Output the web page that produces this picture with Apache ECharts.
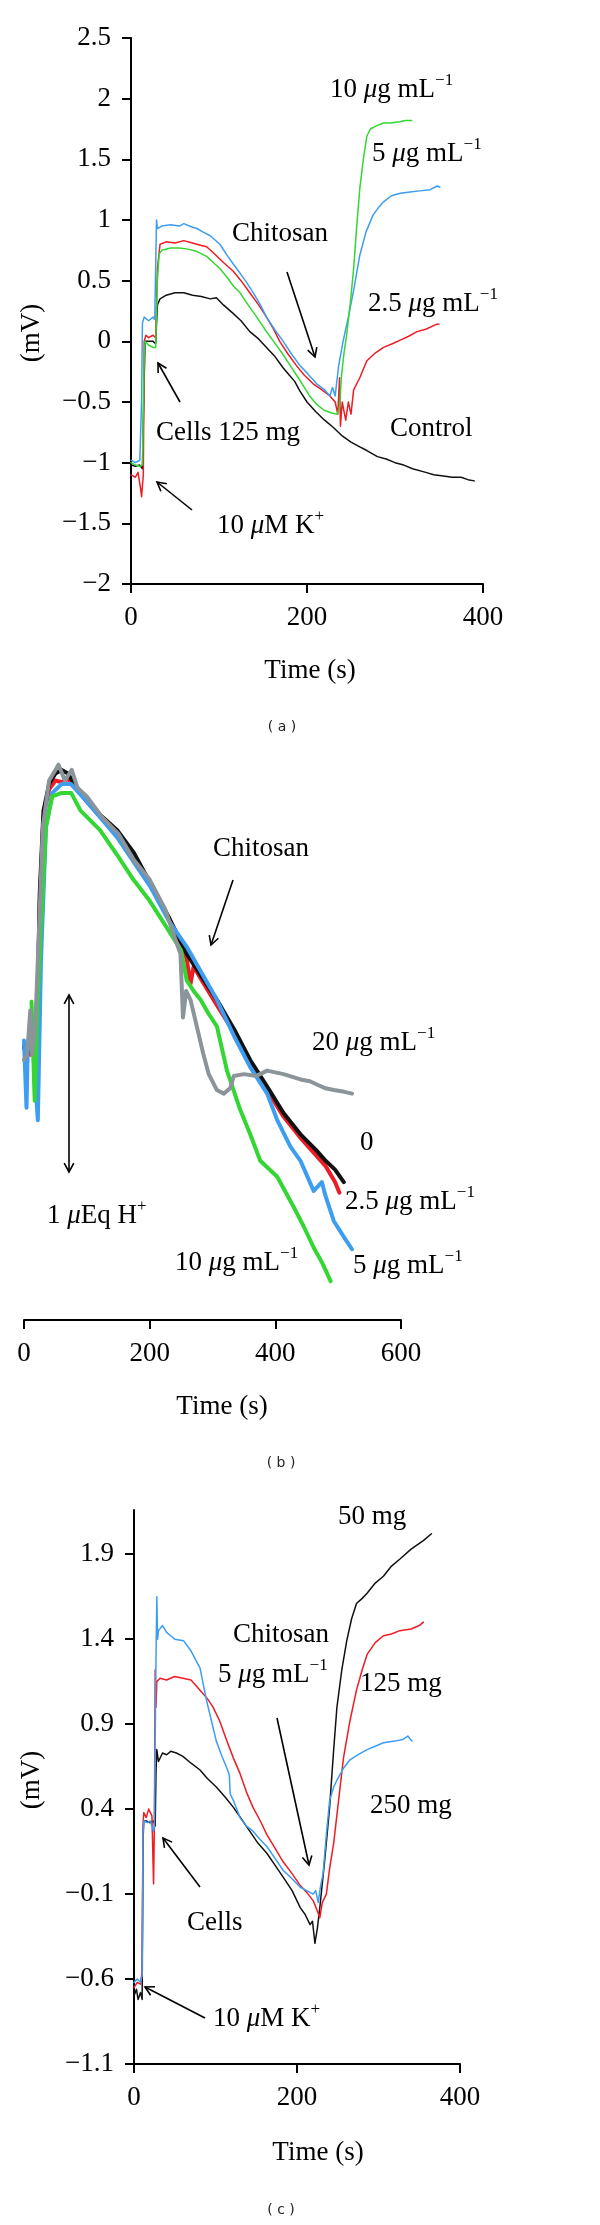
<!DOCTYPE html>
<html>
<head>
<meta charset="utf-8">
<script src="https://cdn.jsdelivr.net/npm/echarts@6/dist/echarts.min.js"></script>
<style>html,body{margin:0;padding:0;background:#fff}#c{width:600px;height:2225px}</style>
</head>
<body>
<div id="c"></div>
<script>
// ---------- Panel (a): membrane potential (mV) vs time (s) ----------
const aXTicks = [0, 200, 400];
const aControl = [[0,-1.02],[5,-1.03],[10,-1.02],[13,-1.05],[15,-0.3],[16,0],[20,0],[25,0],[28,-0.02],[30,0.3],[33,0.35],[40,0.38],[50,0.4],[60,0.4],[70,0.38],[80,0.37],[90,0.35],[97,0.36],[105,0.3],[116,0.23],[125,0.17],[135,0.08],[145,0.02],[154,-0.05],[163,-0.12],[173,-0.22],[180,-0.28],[186,-0.33],[192,-0.41],[200,-0.5],[210,-0.58],[220,-0.65],[230,-0.71],[240,-0.78],[250,-0.83],[260,-0.87],[268,-0.9],[280,-0.95],[290,-0.97],[300,-1.0],[310,-1.02],[320,-1.05],[335,-1.08],[344,-1.1],[355,-1.11],[365,-1.12],[375,-1.12],[383,-1.14],[390,-1.15]];
const aC10 = [[0,-1.0],[5,-1.02],[10,-1.03],[13,-1.02],[15,-0.1],[16,0],[20,-0.03],[25,-0.05],[28,-0.05],[30,0.5],[32,0.72],[35,0.75],[45,0.77],[55,0.77],[65,0.76],[75,0.74],[86,0.7],[95,0.64],[101,0.6],[110,0.52],[117,0.45],[124,0.4],[133,0.3],[143,0.2],[152,0.1],[162,0],[172,-0.1],[181,-0.2],[190,-0.3],[197,-0.38],[203,-0.45],[211,-0.52],[220,-0.57],[228,-0.59],[234,-0.6],[237,-0.55],[239,-0.3],[242,-0.1],[245,0.05],[249,0.3],[253,0.6],[256,0.9],[260,1.26],[264,1.5],[268,1.69],[272,1.75],[280,1.78],[287,1.8],[295,1.8],[305,1.81],[312,1.82],[319,1.82]];
const aC5 = [[0,-0.98],[5,-1.0],[10,-0.98],[12,-0.5],[13,0.15],[15,0.2],[20,0.17],[25,0.2],[27,0.18],[28,0.6],[29,1.0],[30,0.93],[35,0.95],[45,0.96],[55,0.95],[60,0.97],[70,0.94],[75,0.93],[82,0.9],[90,0.87],[101,0.8],[110,0.7],[120,0.6],[130,0.5],[139,0.4],[147,0.3],[154,0.2],[163,0.1],[173,0],[182,-0.1],[192,-0.2],[200,-0.26],[211,-0.35],[220,-0.4],[226,-0.45],[229,-0.38],[232,-0.45],[236,-0.2],[241,0],[247,0.2],[253,0.42],[260,0.71],[267,0.9],[275,1.04],[281,1.1],[287,1.15],[296,1.2],[306,1.22],[317,1.23],[328,1.24],[340,1.25],[348,1.28],[351,1.27]];
const aC25 = [[0,-1.1],[5,-1.12],[8,-1.08],[11,-1.22],[12,-1.28],[14,-1.1],[15,0.0],[17,0.05],[20,0.03],[25,0.05],[28,0.03],[30,0.6],[33,0.8],[40,0.82],[50,0.81],[60,0.83],[70,0.81],[80,0.79],[86,0.78],[95,0.72],[105,0.65],[116,0.58],[125,0.5],[135,0.4],[145,0.3],[154,0.2],[162,0.1],[169,0],[178,-0.1],[188,-0.2],[197,-0.28],[207,-0.35],[217,-0.4],[226,-0.45],[232,-0.5],[235,-0.6],[237,-0.3],[238,-0.7],[240,-0.5],[244,-0.65],[247,-0.5],[250,-0.6],[253,-0.4],[260,-0.3],[268,-0.16],[277,-0.1],[287,-0.05],[297,-0.02],[306,0.01],[315,0.04],[325,0.08],[335,0.1],[347,0.14],[350,0.14]];

// ---------- Panel (b): proton efflux (relative, 1 unit = 1 µEq H+) ----------
const bXTicks = [0, 200, 400, 600];
const bC0 = [[0,1.54],[5,1.5],[10,1.56],[15,1.52],[20,1.47],[25,2.41],[31,2.88],[40,3.03],[50,3.09],[60,3.11],[70,3.09],[80,3.03],[100,2.94],[120,2.86],[148,2.77],[175,2.64],[201,2.47],[230,2.28],[259,2.07],[283,1.94],[307,1.81],[335,1.64],[360,1.47],[387,1.32],[413,1.17],[440,1.05],[465,0.96],[480,0.9],[495,0.85],[509,0.78]];
const bC25 = [[0,1.55],[5,1.52],[10,1.5],[15,1.54],[20,1.45],[25,2.35],[31,2.85],[40,3.0],[50,3.05],[60,3.04],[70,3.06],[80,3.02],[100,2.93],[120,2.85],[148,2.76],[175,2.63],[201,2.46],[230,2.27],[259,2.04],[265,1.9],[270,2.0],[283,1.92],[307,1.78],[335,1.62],[360,1.45],[387,1.3],[413,1.15],[440,1.03],[465,0.93],[480,0.87],[495,0.78],[502,0.72]];
const bC5 = [[0,1.58],[4,1.2],[6,1.55],[15,1.52],[22,1.13],[27,2.03],[35,2.79],[45,2.98],[60,3.03],[75,3.03],[100,2.93],[148,2.73],[201,2.45],[230,2.26],[259,2.11],[283,1.96],[307,1.81],[335,1.6],[360,1.43],[387,1.28],[403,1.13],[424,0.98],[440,0.9],[461,0.73],[474,0.78],[480,0.7],[493,0.56],[509,0.47],[522,0.4]];
const bC10 = [[12,1.8],[17,1.24],[22,1.82],[27,2.22],[35,2.79],[45,2.96],[60,2.98],[75,2.98],[90,2.88],[121,2.77],[150,2.62],[174,2.49],[200,2.37],[227,2.22],[250,2.09],[259,1.92],[270,1.86],[281,1.81],[294,1.73],[307,1.66],[323,1.41],[344,1.19],[360,1.05],[376,0.9],[403,0.81],[429,0.64],[445,0.53],[461,0.41],[475,0.32],[488,0.22]];
const bC20 = [[0,1.47],[5,1.5],[10,1.75],[13,1.5],[18,1.66],[24,2.22],[30,2.79],[40,3.05],[50,3.11],[55,3.14],[65,3.05],[76,3.11],[85,3.01],[100,2.96],[125,2.84],[150,2.75],[175,2.6],[200,2.49],[225,2.32],[240,2.16],[249,2.07],[253,1.71],[258,1.86],[265,1.81],[275,1.66],[285,1.51],[294,1.39],[307,1.3],[318,1.28],[328,1.31],[334,1.38],[350,1.39],[370,1.38],[387,1.41],[413,1.39],[440,1.36],[455,1.35],[467,1.33],[480,1.31],[493,1.3],[510,1.29],[522,1.28]];

// ---------- Panel (c): membrane potential (mV) vs time, cell mass ----------
const cXTicks = [0, 200, 400];
const cYTicks = [-1.1, -0.6, -0.1, 0.4, 0.9, 1.4, 1.9];
const c50 = [[0,-0.7],[3,-0.66],[5,-0.72],[8,-0.68],[10,-0.72],[11,0.2],[12,0.33],[15,0.33],[20,0.32],[24,0.33],[26,0.3],[27,0.62],[28,0.75],[30,0.68],[35,0.73],[40,0.72],[45,0.74],[52,0.73],[60,0.71],[70,0.67],[81,0.63],[90,0.58],[101,0.53],[112,0.47],[122,0.41],[132,0.34],[142,0.27],[152,0.2],[163,0.14],[173,0.07],[183,0.0],[194,-0.08],[204,-0.18],[210,-0.22],[216,-0.28],[219,-0.26],[222,-0.39],[225,-0.3],[228,-0.18],[234,0.1],[240,0.41],[245,0.75],[249,1.0],[255,1.22],[261,1.39],[267,1.52],[273,1.61],[280,1.64],[286,1.67],[296,1.73],[306,1.77],[316,1.83],[326,1.87],[340,1.93],[355,1.98],[365,2.02]];
const c125 = [[0,-0.65],[4,-0.62],[8,-0.63],[10,-0.55],[11,0.3],[12,0.38],[15,0.35],[18,0.4],[22,0.36],[24,-0.04],[25,0.3],[26,1.22],[27,1.0],[28,1.15],[32,1.17],[40,1.16],[50,1.18],[60,1.17],[70,1.16],[81,1.1],[90,1.05],[97,1.0],[105,0.92],[114,0.8],[122,0.7],[130,0.61],[138,0.5],[146,0.41],[155,0.33],[163,0.25],[173,0.17],[183,0.09],[194,0.02],[204,-0.05],[212,-0.09],[220,-0.14],[225,-0.2],[228,-0.24],[231,-0.15],[236,-0.1],[240,0.05],[245,0.2],[251,0.45],[257,0.7],[265,0.92],[273,1.1],[280,1.22],[286,1.31],[296,1.38],[306,1.42],[316,1.43],[326,1.45],[340,1.46],[350,1.48],[355,1.5]];
const c250 = [[0,-0.62],[4,-0.6],[8,-0.62],[10,-0.58],[11,0.25],[12,0.33],[16,0.32],[20,0.33],[24,0.27],[25,0.3],[27,1.3],[28,1.65],[29,1.4],[30,1.45],[35,1.48],[40,1.44],[45,1.42],[50,1.4],[61,1.39],[70,1.33],[81,1.23],[89,1.04],[95,0.92],[101,0.8],[108,0.71],[114,0.64],[117,0.6],[118,0.49],[122,0.45],[130,0.35],[138,0.3],[146,0.27],[155,0.22],[163,0.18],[173,0.11],[183,0.04],[194,-0.01],[204,-0.06],[212,-0.08],[220,-0.1],[223,-0.08],[226,-0.15],[229,-0.05],[232,0.02],[236,0.25],[240,0.45],[245,0.53],[249,0.57],[257,0.64],[265,0.69],[275,0.72],[286,0.75],[296,0.77],[306,0.79],[320,0.8],[330,0.81],[336,0.83],[341,0.8]];

const FONT = 'Liberation Serif';
const FS = 27;
const COL = {black:'#111111', red:'#ee1c24', blue:'#3d9df0', green:'#33d633', gray:'#8a9499'};

function fmt(v){ const r = Math.round(v*10)/10; return r < 0 ? '\u2212' + Math.abs(r) : String(r); }

const axisCommon = {
  axisLine:{onZero:false, lineStyle:{color:'#000', width:2}},
  axisTick:{show:true, length:9, lineStyle:{color:'#000', width:2}},
  axisLabel:{color:'#000', fontFamily:FONT, fontSize:FS, margin:20},
  splitLine:{show:false}
};
function xAx(gi, max, interval){
  return Object.assign({type:'value', gridIndex:gi, min:0, max:max, interval:interval}, JSON.parse(JSON.stringify(axisCommon)));
}

const chart = echarts.init(document.getElementById('c'), null, {renderer:'canvas'});

const xAxes = [xAx(0,400,200), xAx(1,600,200), xAx(2,400,200)];
xAxes.forEach(a => a.axisLabel.formatter = v => fmt(v));

const yA = Object.assign({type:'value', gridIndex:0, min:-2, max:2.5, interval:0.5}, JSON.parse(JSON.stringify(axisCommon)));
yA.axisLabel.formatter = v => fmt(v);
const yB = {type:'value', gridIndex:1, min:0, max:3.2, show:false};
const yC = Object.assign({type:'value', gridIndex:2, min:-1.1, max:2.16}, JSON.parse(JSON.stringify(axisCommon)));
yC.axisLabel.customValues = cYTicks;
yC.axisTick.customValues = cYTicks;
yC.axisLabel.formatter = v => fmt(v);

function ser(data, color, gi, width){
  return {type:'line', xAxisIndex:gi, yAxisIndex:gi, data:data, showSymbol:false, symbol:'none',
    lineStyle:{color:color, width:width, cap:'round', join:'round'}, itemStyle:{color:color}, silent:true, animation:false};
}

const rich = {
  n:{fontFamily:FONT, fontSize:FS, lineHeight:36, fill:'#000', color:'#000'},
  i:{fontFamily:FONT, fontSize:FS, lineHeight:36, fontStyle:'italic', fill:'#000', color:'#000'},
  s:{fontFamily:FONT, fontSize:17, lineHeight:17, verticalAlign:'top', fill:'#000', color:'#000'}
};
const ugml = (num) => '{n|' + num + ' }{i|\u03bc}{n|g mL}{s|\u22121}';
function txt(x, y, text, align){
  return {type:'text', x:x, y:y, silent:true, style:{text:text, rich:rich, font: FS + 'px "' + FONT + '"', fill:'#000',
    textAlign:align||'left', align:align||'left', textVerticalAlign:'middle', verticalAlign:'middle'}};
}
function cap(x, y, letter){
  return {type:'text', x:x, y:y, silent:true, style:{text:'( ' + letter + ' )', font:'14px "DejaVu Sans"', fill:'#222',
    textAlign:'center', align:'center', textVerticalAlign:'middle', verticalAlign:'middle'}};
}
function head(x1,y1,x2,y2){
  const ang = Math.atan2(y2-y1, x2-x1), L = 10, da = 0.5;
  return {type:'polyline', silent:true, shape:{points:[[x2 - L*Math.cos(ang-da), y2 - L*Math.sin(ang-da)],[x2,y2],[x2 - L*Math.cos(ang+da), y2 - L*Math.sin(ang+da)]]},
    style:{stroke:'#000', lineWidth:1.6, fill:null}};
}
function arrow(x1,y1,x2,y2,both){
  const els = [{type:'line', silent:true, shape:{x1:x1,y1:y1,x2:x2,y2:y2}, style:{stroke:'#000', lineWidth:1.6}}, head(x1,y1,x2,y2)];
  if (both) els.push(head(x2,y2,x1,y1));
  return els;
}

const graphics = [
  // panel a
  txt(330, 90, ugml('10')),
  txt(372, 154, ugml('5')),
  txt(232, 234, '{n|Chitosan}'),
  txt(368, 304, ugml('2.5')),
  txt(156, 433, '{n|Cells 125 mg}'),
  txt(390, 429, '{n|Control}'),
  txt(217, 526, '{n|10 }{i|\u03bc}{n|M K}{s|+}'),
  txt(310, 671, '{n|Time (s)}', 'center'),
  {type:'text', x:32, y:333, rotation:Math.PI/2, silent:true, style:{text:'{n|(mV)}', rich:rich, textAlign:'center', align:'center', textVerticalAlign:'middle', verticalAlign:'middle'}},
  cap(282, 727, 'a'),
  ...arrow(287,272,315,357),
  ...arrow(180,402,158,363),
  ...arrow(192,510,157,482),
  // panel b
  txt(213, 849, '{n|Chitosan}'),
  txt(312, 1043, ugml('20')),
  txt(360, 1143, '{n|0}'),
  txt(345, 1202, ugml('2.5')),
  txt(47, 1216, '{n|1 }{i|\u03bc}{n|Eq H}{s|+}'),
  txt(175, 1263, ugml('10')),
  txt(353, 1266, ugml('5')),
  txt(222, 1407, '{n|Time (s)}', 'center'),
  cap(281, 1463, 'b'),
  ...arrow(233,880,211,945),
  ...arrow(69,995,69,1172,true),
  // panel c
  txt(338, 1517, '{n|50 mg}'),
  txt(233, 1635, '{n|Chitosan}'),
  txt(218, 1675, ugml('5')),
  txt(360, 1684, '{n|125 mg}'),
  txt(370, 1806, '{n|250 mg}'),
  txt(187, 1923, '{n|Cells}'),
  txt(213, 2019, '{n|10 }{i|\u03bc}{n|M K}{s|+}'),
  txt(318, 2153, '{n|Time (s)}', 'center'),
  {type:'text', x:32, y:1780, rotation:Math.PI/2, silent:true, style:{text:'{n|(mV)}', rich:rich, textAlign:'center', align:'center', textVerticalAlign:'middle', verticalAlign:'middle'}},
  cap(281, 2210, 'c'),
  ...arrow(277,1718,309,1865),
  ...arrow(200,1887,163,1838),
  ...arrow(205,2018,145,1987)
];

chart.setOption({
  animation:false,
  backgroundColor:'#fff',
  grid:[
    {left:131, top:38, width:352, height:546},
    {left:24, top:754, width:377, height:566},
    {left:134, top:1510, width:326, height:554}
  ],
  xAxis: xAxes,
  yAxis: [yA, yB, yC],
  series:[
    ser(aControl, COL.black, 0, 1.5),
    ser(aC25, COL.red, 0, 1.5),
    ser(aC5, COL.blue, 0, 1.5),
    ser(aC10, COL.green, 0, 1.5),
    ser(bC25, COL.red, 1, 4),
    ser(bC0, COL.black, 1, 4),
    ser(bC5, COL.blue, 1, 4),
    ser(bC10, COL.green, 1, 4),
    ser(bC20, COL.gray, 1, 4),
    ser(c50, COL.black, 2, 1.5),
    ser(c125, COL.red, 2, 1.5),
    ser(c250, COL.blue, 2, 1.5)
  ],
  graphic: graphics
});
</script>
</body>
</html>
